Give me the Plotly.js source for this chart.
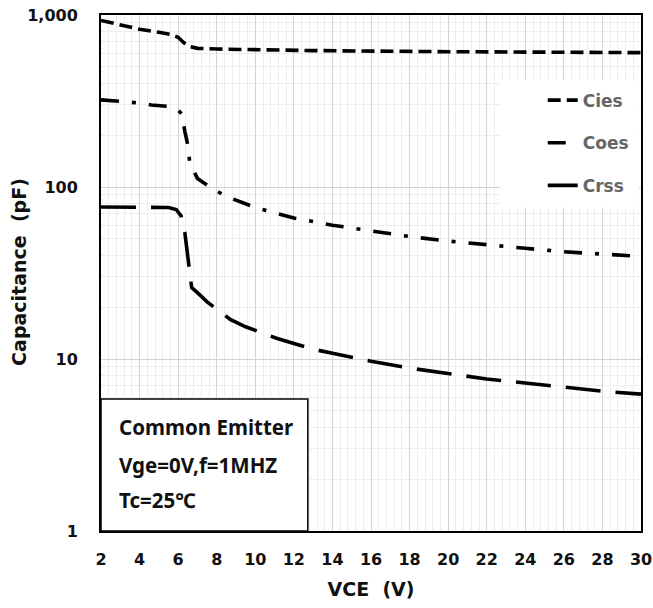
<!DOCTYPE html>
<html>
<head>
<meta charset="utf-8">
<script src="https://cdn.plot.ly/plotly-3.0.1.min.js"></script>
<style>
  html, body { margin: 0; padding: 0; background: #fff; }
  #chart { width: 653px; height: 608px; }
</style>
</head>
<body>
<div id="chart"></div>
<script>
// Capacitance vs. collector-emitter voltage (pF, log scale)
const ciesV = [2, 3, 4, 5, 5.6, 6, 6.3, 6.6, 7, 8, 10, 13, 20, 30];
const ciesC = [930, 875, 826, 793, 772, 742, 690, 655, 640, 634, 628, 621, 612, 604];

const coesV = [2, 3, 4, 4.6, 5.5, 6, 6.2, 6.35, 6.5, 6.6, 7, 7.7, 8.5, 10, 11, 12, 14, 16, 18, 20, 22, 24, 26, 28, 30];
const coesC = [321, 316, 308, 300, 294, 280, 265, 210, 175, 140, 112, 99, 88, 76, 71, 66, 60, 55.5, 51.5, 48.5, 46, 44, 42, 40.5, 39.5];

const crssV = [2, 4, 5.5, 5.9, 6.15, 6.35, 6.6, 6.7, 7, 7.5, 8, 8.7, 9.5, 10.4, 11.1, 12, 13, 14, 16, 18, 20, 22, 24, 26, 28, 30];
const crssC = [76.5, 76.5, 76, 74, 68, 54, 34, 26, 24.3, 21.5, 19.5, 17, 15.4, 14.1, 13.2, 12.3, 11.4, 10.8, 9.7, 8.85, 8.2, 7.65, 7.25, 6.85, 6.5, 6.25];

const seriesNames = ['Cies', 'Coes', 'Crss'];

const xTickVals = [2, 4, 6, 8, 10, 12, 14, 16, 18, 20, 22, 24, 26, 28, 30];
const yTickVals = [1, 10, 100, 1000];
const yTickText = ['1', '10', '100', '1,000'];

const xTitle = 'VCE  (V)';
const yTitle = 'Capacitance  (pF)';
const conditionLines = ['Common Emitter', 'Vge=0V,f=1MHZ', 'Tc=25\u2103'];

const tickFont = { family: 'DejaVu Sans', size: 16, color: '#111' };
const titleFont = { family: 'DejaVu Sans', size: 19, color: '#111', weight: 'bold' };

function curve(x, y, name, dash, group) {
  return {
    type: 'scatter', mode: 'lines', x: x, y: y, name: name,
    legendgroup: group,
    line: { color: '#000', width: 3.6, dash: dash },
    hoverinfo: 'skip'
  };
}

const data = [
  curve(ciesV, ciesC, seriesNames[0], '13px,6px', 'a'),
  curve(coesV, coesC, seriesNames[1], '18px,13px,4px,13px', 'b'),
  curve(crssV, crssC, seriesNames[2], '35px,15px', 'c')
];

// Test-condition text inside the boxed lower-left corner
const annotations = conditionLines.map((t, i) => ({
  xref: 'paper', yref: 'paper',
  x: 0.029, y: [0.202, 0.128, 0.061][i],
  xanchor: 'left', yanchor: 'middle',
  text: '<b>' + t + '</b>',
  showarrow: false,
  font: { family: 'Noto Sans', size: 20.5, color: '#111' }
}));

// Vertical axis title, set a little closer to the tick labels
annotations.push({
  xref: 'paper', yref: 'paper',
  x: -0.152, y: 0.502, xanchor: 'center', yanchor: 'middle',
  textangle: -90, showarrow: false,
  text: yTitle, font: titleFont
});

const layout = {
  width: 653, height: 608,
  margin: { l: 101, r: 12, t: 15, b: 77 },
  paper_bgcolor: '#fff', plot_bgcolor: '#fff',
  showlegend: true,
  legend: {
    x: 0.818, y: 0.869, xanchor: 'left', yanchor: 'top',
    bgcolor: 'rgba(0,0,0,0)', borderwidth: 0,
    traceorder: 'grouped', tracegroupgap: 17.5,
    font: { family: 'DejaVu Sans', size: 17, color: '#666', weight: 'bold' },
    itemwidth: 30
  },
  xaxis: {
    range: [2, 30], tickvals: xTickVals,
    tickfont: Object.assign({ weight: 'bold' }, tickFont),
    ticks: '', ticklabelstandoff: 13,
    showgrid: true, gridcolor: '#d4d4d4', gridwidth: 1,
    minor: { dtick: 0.4, showgrid: true, gridcolor: '#ededed', gridwidth: 1 },
    showline: true, linecolor: '#000', linewidth: 2, mirror: true,
    zeroline: false,
    title: { text: xTitle, font: titleFont, standoff: 14 }
  },
  yaxis: {
    type: 'log', range: [0, 3],
    tickvals: yTickVals, ticktext: yTickText,
    tickfont: Object.assign({ weight: 'bold' }, tickFont),
    ticks: '', ticklabelstandoff: 18,
    showgrid: true, gridcolor: '#d4d4d4', gridwidth: 1,
    minor: { dtick: 'D1', showgrid: true, gridcolor: '#ededed', gridwidth: 1 },
    showline: true, linecolor: '#000', linewidth: 2, mirror: true,
    zeroline: false
  },
  shapes: [
    { type: 'rect', xref: 'paper', yref: 'paper', x0: 0.739, x1: 0.996, y0: 0.627, y1: 0.874,
      fillcolor: '#fff', line: { width: 0 }, layer: 'above' },
    { type: 'rect', xref: 'paper', yref: 'paper', x0: 0, x1: 0.383, y0: 0, y1: 0.256,
      fillcolor: '#fff', line: { color: '#000', width: 1.5 }, layer: 'above' }
  ],
  annotations: annotations
};

Plotly.newPlot('chart', data, layout, { staticPlot: true, displayModeBar: false });
</script>
</body>
</html>
